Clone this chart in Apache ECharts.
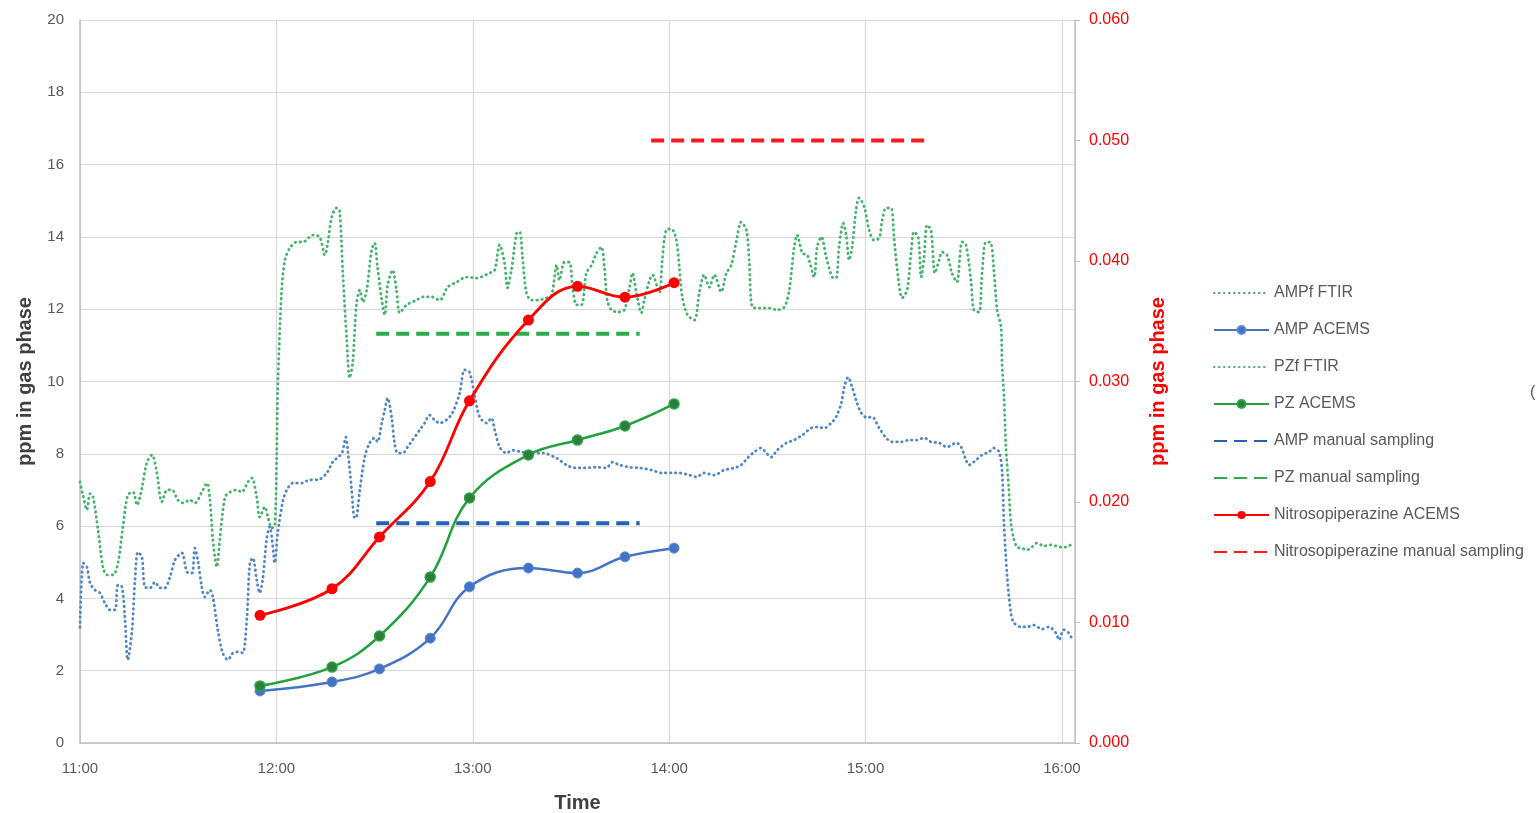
<!DOCTYPE html>
<html>
<head>
<meta charset="utf-8">
<script src="https://cdn.jsdelivr.net/npm/echarts@6/dist/echarts.min.js"></script>
<style>
  html, body { margin: 0; padding: 0; background: #fff; }
  #chart { width: 1537px; height: 813px; }
</style>
</head>
<body>
<div id="chart"></div>
<script>
// x values are minutes after 11:00
const hourLabels = ['11:00', '12:00', '13:00', '14:00', '15:00', '16:00']

// ACEMS sampling times and values
const acemsMinutes = [55, 77, 91.5, 107, 119, 137, 152, 166.5, 181.5]
const ampAcems = [1.44, 1.69, 2.05, 2.9, 4.32, 4.84, 4.7, 5.15, 5.39]
const pzAcems = [1.58, 2.1, 2.96, 4.59, 6.78, 7.97, 8.38, 8.77, 9.38]
const nitrosoAcems = [0.0106, 0.0128, 0.0171, 0.0217, 0.0284, 0.0351, 0.0379, 0.0370, 0.0382]

// manual sampling (start, end)
const ampManual = [[90.5, 6.08], [171, 6.08]]
const pzManual = [[90.5, 11.32], [171, 11.32]]
const nitrosoManual = [[174.5, 0.050], [260, 0.050]]

// FTIR traces [minute, ppm]
const ampFtir = [
  [0, 3.2], [1, 4.98], [2.1, 4.87], [3.1, 4.42], [4.6, 4.23], [6.1, 4.15], [7.6, 3.87], [9.2, 3.68],
  [10.7, 3.68], [11.6, 4.37], [12.8, 4.32], [13.7, 3.49], [14.6, 2.3], [15.9, 3.13], [16.8, 4.51],
  [17.7, 5.28], [18.9, 5.15], [19.8, 4.32], [21.4, 4.29], [22.9, 4.45], [24.4, 4.29], [25.9, 4.29],
  [27.5, 4.59], [29, 5.06], [31.1, 5.26], [32.7, 4.73], [34.2, 4.7], [35.1, 5.39], [36, 5.06],
  [37.2, 4.32], [38.1, 4.04], [39.7, 4.23], [40.6, 4.04], [42.1, 3.13], [43.6, 2.49], [45.2, 2.3],
  [46.7, 2.49], [48.2, 2.52], [49.7, 2.49], [51, 3.49], [51.9, 4.98], [52.8, 5.12], [54, 4.51],
  [54.9, 4.15], [55.8, 4.51], [57.1, 5.7], [58, 5.98], [58.9, 5.45], [59.5, 4.98], [60.4, 5.8],
  [62, 6.7], [63.2, 7.0], [65, 7.19], [67.8, 7.19], [70.2, 7.28], [72.6, 7.28], [75.4, 7.47],
  [77.2, 7.77], [80, 8.02], [81.2, 8.46], [81.8, 8.1], [83, 7.0], [83.9, 6.22], [84.5, 6.25],
  [85.5, 7.0], [87, 7.91], [88.5, 8.3], [90, 8.44], [90.9, 8.33], [92.2, 8.85], [93.1, 9.21],
  [94, 9.54], [95.2, 9.02], [96.1, 8.3], [97.1, 8.02], [98.6, 8.02], [100.1, 8.19], [101.6, 8.38],
  [103.8, 8.66], [105.3, 8.85], [106.8, 9.07], [108.3, 8.94], [109.9, 8.85], [112, 8.94],
  [113.8, 9.13], [116, 9.68], [117.5, 10.32], [119, 10.26], [120.6, 9.6], [122.1, 9.02],
  [124.2, 8.85], [125.7, 8.99], [126.7, 8.66], [128.2, 8.19], [130.3, 8.02], [132.1, 8.1],
  [134.9, 8.05], [137.9, 8.02], [141.3, 8.02], [145.6, 7.88], [148.6, 7.69], [151.1, 7.61],
  [154.1, 7.61], [157.8, 7.63], [160.8, 7.61], [162.7, 7.77], [164.8, 7.69], [167.9, 7.63],
  [170.9, 7.61], [174.6, 7.55], [177.9, 7.47], [181, 7.47], [183.1, 7.47], [186.2, 7.41],
  [188.3, 7.36], [190.7, 7.47], [193.8, 7.41], [196.8, 7.55], [199.9, 7.61], [202, 7.69],
  [203.9, 7.88], [206, 8.05], [208.1, 8.16], [209.7, 8.02], [211.2, 7.91], [213, 8.1],
  [215.8, 8.3], [218.2, 8.38], [220.7, 8.52], [223.4, 8.71], [225.2, 8.74], [227.4, 8.71],
  [229.5, 8.85], [231, 9.02], [232.6, 9.4], [233.5, 9.85], [234.7, 10.12], [235.9, 9.85],
  [237.1, 9.49], [238.7, 9.13], [240.5, 9.0], [242, 9.02], [244.2, 8.71], [246.3, 8.44],
  [248.1, 8.33], [250.9, 8.33], [253.3, 8.38], [255.7, 8.38], [257.9, 8.44], [260, 8.33],
  [262.5, 8.3], [264.9, 8.19], [267.7, 8.3], [269.2, 8.19], [270.7, 7.83], [271.6, 7.69],
  [273.8, 7.83], [275.6, 7.97], [277.7, 8.05], [279.2, 8.16], [280.8, 8.05], [281.7, 7.55],
  [282.3, 6.09], [283.2, 4.7], [284.4, 3.6], [285.4, 3.32], [287.5, 3.21], [289.3, 3.21],
  [291.4, 3.26], [293.9, 3.15], [296, 3.21], [298.2, 3.04], [299.1, 2.85], [300.6, 3.13],
  [302.1, 3.04], [303, 2.9]
]

const pzFtir = [
  [0, 7.22], [0.9, 6.86], [2.1, 6.45], [3.1, 6.9], [4, 6.8], [5.5, 5.9], [7, 4.87], [8.2, 4.65],
  [10.1, 4.65], [11.6, 4.98], [13.1, 5.97], [14.6, 6.86], [16.2, 6.94], [17.4, 6.58], [18.9, 7.05],
  [20.4, 7.75], [22, 7.97], [23.5, 7.47], [25, 6.67], [26.6, 7.0], [28.1, 7.0], [29.9, 6.72],
  [31.4, 6.64], [33.6, 6.72], [35.1, 6.64], [37.2, 6.94], [38.8, 7.19], [39.7, 6.72], [40.6, 5.62],
  [41.8, 4.87], [42.7, 5.62], [44.3, 6.8], [45.8, 6.94], [47.9, 7.0], [49.4, 6.94], [51.3, 7.22],
  [52.5, 7.33], [54, 6.8], [54.9, 6.25], [56.5, 6.53], [57.4, 6.25], [58.6, 5.95], [59.5, 6.0],
  [60.1, 8.0], [60.4, 9.76], [61.6, 12.5], [62.6, 13.36], [64.1, 13.69], [66.2, 13.86],
  [68.1, 13.86], [71.1, 14.05], [73.2, 14.0], [74.8, 13.5], [75.7, 13.83], [76.9, 14.55],
  [78.4, 14.8], [79.3, 14.74], [80.3, 13.0], [81.5, 11.15], [82.4, 10.1], [83.3, 10.5],
  [84.5, 12.17], [85.5, 12.53], [86.4, 12.2], [87.6, 12.53], [89.1, 13.64], [90, 13.83],
  [90.9, 13.17], [92.2, 12.25], [93.1, 11.84], [94, 12.67], [95.5, 13.08], [96.7, 12.53],
  [97.7, 11.9], [99.8, 12.12], [102.8, 12.25], [104.7, 12.34], [107.4, 12.34], [109.9, 12.25],
  [112.3, 12.61], [115.1, 12.75], [118.1, 12.89], [121.2, 12.86], [125.1, 13.0], [126.7, 13.08],
  [128.2, 13.78], [129.7, 13.28], [130.6, 12.59], [131.8, 13.08], [133.4, 14.1], [134.3, 14.14],
  [135.2, 13.44], [136.4, 12.45], [137.9, 12.25], [139.8, 12.25], [142.5, 12.31], [144.1, 12.39],
  [145.6, 13.22], [146.5, 12.8], [148, 13.3], [149.5, 13.3], [150.5, 12.61], [151.7, 12.12],
  [153.2, 12.12], [154.7, 13.0], [156.3, 13.22], [157.8, 13.55], [159.3, 13.72], [160.2, 13.17],
  [161.1, 12.25], [162.4, 11.98], [164.2, 11.92], [166.3, 11.98], [167.9, 12.61], [168.8, 13.0],
  [170, 12.45], [171.5, 11.9], [172.4, 12.25], [174, 12.8], [174.9, 12.95], [177, 12.45],
  [177.9, 13.36], [179.1, 14.19], [180.7, 14.22], [182.2, 13.91], [183.1, 13.17], [184, 12.34],
  [185.6, 11.84], [187.7, 11.7], [189.2, 12.45], [190.7, 12.95], [192.3, 12.61], [193.8, 12.95],
  [195.9, 12.48], [197.5, 13.0], [199, 13.22], [200.5, 13.86], [202, 14.41], [203.6, 14.19],
  [204.5, 13.28], [205.4, 12.06], [207.5, 12.03], [210.6, 12.03], [213, 11.98], [215.2, 12.06],
  [216.7, 12.53], [218.2, 13.72], [219.1, 14.05], [220.7, 13.55], [222.2, 13.5], [224.3, 12.89],
  [225.2, 13.72], [226.5, 14.0], [228, 13.44], [229.8, 12.89], [231, 12.86], [231.9, 13.72],
  [233.2, 14.38], [234.1, 14.05], [235, 13.36], [235.9, 13.72], [237.1, 14.74], [238, 15.08],
  [239.6, 14.83], [241.1, 14.19], [242.6, 13.91], [244.2, 13.97], [245.1, 14.47], [246.3, 14.8],
  [247.8, 14.8], [248.7, 14.0], [249.7, 13.08], [251.2, 12.31], [252.7, 12.53], [253.9, 13.55],
  [254.8, 14.14], [256.1, 14.0], [257, 12.89], [257.9, 13.44], [258.8, 14.33], [260, 14.19],
  [261.2, 13.0], [262.5, 13.36], [263.4, 13.58], [264.9, 13.5], [266.4, 13.0], [267.9, 12.75],
  [269.5, 13.86], [270.7, 13.78], [272.2, 12.8], [273.1, 11.98], [274.7, 11.92], [275.6, 13.0],
  [276.8, 13.86], [278.3, 13.83], [279.2, 13.08], [280.2, 11.98], [281.4, 11.5], [281.7, 10.5],
  [282.3, 9.57], [282.9, 8.19], [283.8, 7.0], [284.4, 6.09], [285.4, 5.62], [286.3, 5.42],
  [287.8, 5.39], [289.3, 5.34], [290.8, 5.42], [292.4, 5.53], [294.5, 5.45], [296.6, 5.48],
  [298.2, 5.45], [299.7, 5.42], [301.2, 5.42], [303, 5.5]
]

const chart = echarts.init(document.getElementById('chart'))

const pair = (xs, ys) => xs.map((x, i) => [x, ys[i]])
const dots = [0.5, 4.5]
const dashes = [13, 7]
const fontFamily = 'Liberation Sans'
// legend entries for lines without markers
const noMarker = name => ({ name: name, itemStyle: { opacity: 0 } })

chart.setOption({
  animation: false,
  textStyle: { fontFamily: fontFamily },
  grid: { left: 80, right: 462, top: 20, bottom: 70, containLabel: false, outerBoundsMode: 'none' },
  legend: {
    orient: 'vertical',
    left: 1208,
    top: 280,
    itemWidth: 55,
    itemHeight: 10,
    itemGap: 21,
    textStyle: { fontSize: 16, color: '#595959', fontFamily: fontFamily },
    data: [noMarker('AMPf FTIR'), 'AMP ACEMS', noMarker('PZf FTIR'), 'PZ ACEMS',
      noMarker('AMP manual sampling'), noMarker('PZ manual sampling'), 'Nitrosopiperazine ACEMS',
      noMarker('Nitrosopiperazine manual sampling')]
  },
  graphic: [{
    type: 'text',
    left: 1530,
    top: 385,
    style: { text: '(', fontSize: 16, fill: '#595959', fontFamily: fontFamily }
  }],
  xAxis: {
    type: 'value',
    min: 0,
    max: 304,
    interval: 60,
    name: 'Time',
    nameLocation: 'middle',
    nameGap: 50,
    nameTextStyle: { fontSize: 20, fontWeight: 'bold', color: '#404040' },
    axisLine: { lineStyle: { color: '#bfbfbf', width: 1.5 } },
    axisTick: { show: false },
    axisLabel: {
      fontSize: 15,
      color: '#595959',
      margin: 18,
      formatter: v => (v % 60 === 0 ? hourLabels[v / 60] : '')
    },
    splitLine: { lineStyle: { color: '#d9d9d9', width: 1.2 } }
  },
  yAxis: [{
    type: 'value',
    min: 0,
    max: 20,
    interval: 2,
    name: 'ppm in gas phase',
    nameLocation: 'middle',
    nameRotate: 90,
    nameGap: 45,
    nameTextStyle: { fontSize: 20, fontWeight: 'bold', color: '#404040' },
    axisLine: { show: true, lineStyle: { color: '#bfbfbf', width: 1.5 } },
    axisTick: { show: false },
    axisLabel: { fontSize: 15, color: '#595959', margin: 16 },
    splitLine: { lineStyle: { color: '#d9d9d9', width: 1.2 } }
  }, {
    type: 'value',
    position: 'right',
    min: 0,
    max: 0.06,
    interval: 0.01,
    name: 'ppm in gas phase',
    nameLocation: 'middle',
    nameRotate: 90,
    nameGap: 73,
    nameTextStyle: { fontSize: 20, fontWeight: 'bold', color: '#ff0000' },
    axisLine: { show: true, lineStyle: { color: '#bfbfbf', width: 1.5 } },
    axisTick: { show: true, length: 5, lineStyle: { color: '#bfbfbf' } },
    axisLabel: { fontSize: 16, color: '#ff0000', margin: 14, formatter: v => v.toFixed(3) },
    splitLine: { show: false }
  }],
  series: [{
    name: 'AMPf FTIR',
    type: 'line',
    data: ampFtir,
    smooth: 0.3,
    symbol: 'none',
    color: '#4f86c6',
    lineStyle: { width: 2.8, type: dots, cap: 'round', color: '#4f86c6' }
  }, {
    name: 'AMP ACEMS',
    type: 'line',
    data: pair(acemsMinutes, ampAcems),
    smooth: 0.4,
    symbol: 'circle',
    symbolSize: 10,
    color: '#4472c4',
    itemStyle: { color: '#4472c4', borderColor: '#5b8bd6', borderWidth: 1 },
    lineStyle: { width: 2.5, color: '#4472c4' }
  }, {
    name: 'PZf FTIR',
    type: 'line',
    data: pzFtir,
    smooth: 0.3,
    symbol: 'none',
    color: '#45b36b',
    lineStyle: { width: 2.8, type: dots, cap: 'round', color: '#45b36b' }
  }, {
    name: 'PZ ACEMS',
    type: 'line',
    data: pair(acemsMinutes, pzAcems),
    smooth: 0.4,
    symbol: 'circle',
    symbolSize: 10,
    color: '#22a23c',
    itemStyle: { color: '#2e7d3a', borderColor: '#28a745', borderWidth: 1.5 },
    lineStyle: { width: 2.5, color: '#22a23c' }
  }, {
    name: 'AMP manual sampling',
    type: 'line',
    data: ampManual,
    symbol: 'none',
    color: '#2462b8',
    lineStyle: { width: 4, type: dashes, color: '#2462b8' }
  }, {
    name: 'PZ manual sampling',
    type: 'line',
    data: pzManual,
    symbol: 'none',
    color: '#2daa4a',
    lineStyle: { width: 4, type: dashes, color: '#2daa4a' }
  }, {
    name: 'Nitrosopiperazine ACEMS',
    type: 'line',
    yAxisIndex: 1,
    data: pair(acemsMinutes, nitrosoAcems),
    smooth: 0.4,
    symbol: 'circle',
    symbolSize: 11,
    color: '#ff0000',
    itemStyle: { color: '#ff0000' },
    lineStyle: { width: 2.8, color: '#ff0000' }
  }, {
    name: 'Nitrosopiperazine manual sampling',
    type: 'line',
    yAxisIndex: 1,
    data: nitrosoManual,
    symbol: 'none',
    color: '#ff1a1a',
    lineStyle: { width: 4, type: dashes, color: '#ff1a1a' }
  }]
})
</script>
</body>
</html>
